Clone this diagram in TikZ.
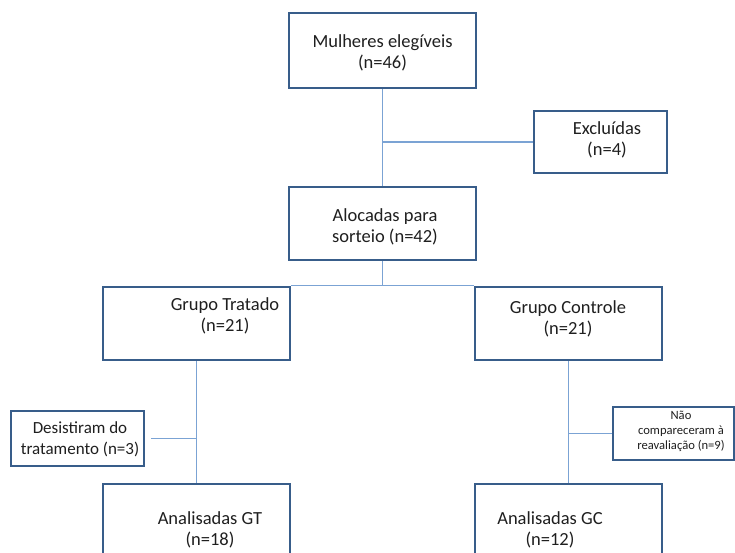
\documentclass[tikz,border=0pt]{standalone}
\usepackage{fontspec}
\setmainfont{Carlito}
\usepackage{xcolor}
\definecolor{boxblue}{HTML}{385D8A}
\definecolor{lineblue}{HTML}{7BA3D4}
\tikzset{
  box/.style={draw=boxblue, line width=2.4pt, fill=white, inner sep=0pt, minimum width=187pt, minimum height=73pt},
  txt/.style={align=center, inner sep=0pt, anchor=base, text=black!88, font=\fontsize{18.5}{21}\selectfont},
  conn/.style={draw=lineblue, line width=1.1pt}
}

\begin{document}
\begin{tikzpicture}[x=1pt,y=-1pt]
        \useasboundingbox (0,0) rectangle (735,552);
        \clip (0,0) rectangle (735,552);
        % caixas
        \node[box, minimum height=75pt](mul) at (382.5,50.5) {};
        \node[box, minimum width=133pt, minimum height=62pt](exc) at (600.5,142) {};
        \node[box](alo) at (382.5,223.5) {};
        \node[box](gt) at (196.5,323.5) {};
        \node[box](gc) at (568.5,323.5) {};
        \node[box, minimum width=133pt, minimum height=55pt](des) at (77.5,438.5) {};
        \node[box, minimum width=120.5pt, minimum height=53pt](nao) at (673.5,433.5) {};
        \node[box](agt) at (196.5,520.5) {};
        \node[box](agc) at (568.5,520.5) {};
        % textos (y = linha de base da ultima linha)
        \node[txt](mult) at (382.5,68) {Mulheres elegíveis\\(n=46)};
        \node[txt](exct) at (607,155) {Excluídas\\(n=4)};
        \node[txt](alot) at (385,242) {Alocadas para\\sorteio (n=42)};
        \node[txt](gtt) at (225,331) {Grupo Tratado\\(n=21)};
        \node[txt](gct) at (568,334) {Grupo Controle\\(n=21)};
        \node[txt, font=\fontsize{17}{21}\selectfont](dest) at (80,454) {Desistiram do\\tratamento (n=3)};
        \node[txt, font=\fontsize{12.6}{15}\selectfont](naot) at (681,449) {Não\\compareceram à\\reavaliação (n=9)};
        \node[txt](agtt) at (210,545) {Analisadas GT\\(n=18)};
        \node[txt](agct) at (550,545) {Analisadas GC\\(n=12)};
        % ligacoes
        \draw[conn](mul)--(alo);
        \draw[conn](exc.west)--(exc.west -| mul.south);
        \draw[conn](alo)--(alo.south |- gt.north);
        \draw[conn](gt.north east)--(gc.north west);
        \draw[conn](gt)--(agt);
        \draw[conn](gc)--(agc);
        \draw[conn]([xshift=6pt]des.east)--(des.east -| gt.south);
        \draw[conn](nao.west)--(nao.west -| gc.south);
\end{tikzpicture}
\end{document}
